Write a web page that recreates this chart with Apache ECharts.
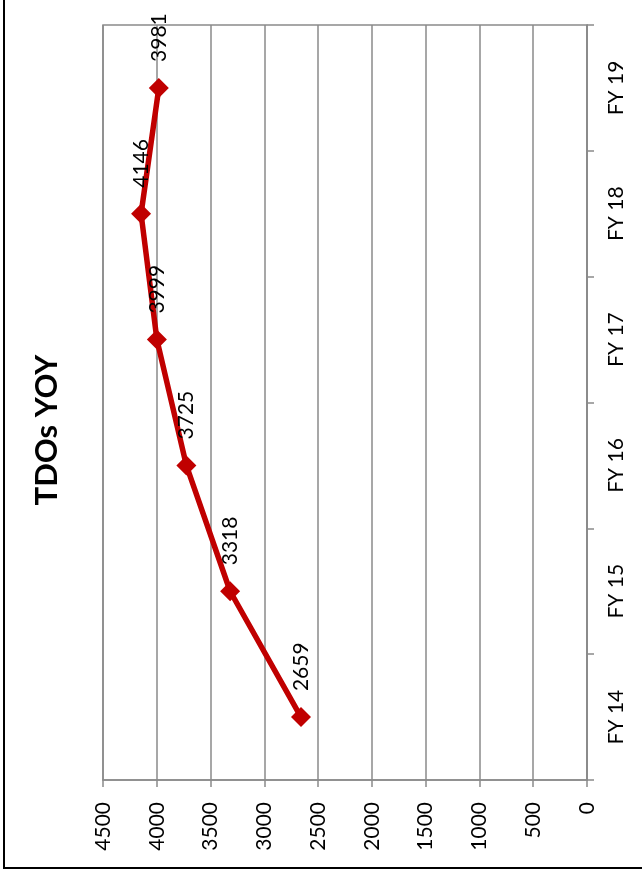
<!DOCTYPE html>
<html>
<head>
<meta charset="utf-8">
<script src="https://cdn.jsdelivr.net/npm/echarts@6/dist/echarts.min.js"></script>
<style>
html,body{margin:0;padding:0;background:#fff;}
#chart{width:642px;height:875px;}
</style>
</head>
<body>
<div id="chart"></div>
<script>
const categories = ['FY 14', 'FY 15', 'FY 16', 'FY 17', 'FY 18', 'FY 19'];
const tdoValues = [2659, 3318, 3725, 3999, 4146, 3981];
const chartTitle = 'TDOs YOY';
const valueMin = 0, valueMax = 4500, valueStep = 500;

const FONT = 'Lato';
const GRID = '#8a8a8a';
const chart = echarts.init(document.getElementById('chart'), null, {renderer: 'canvas'});
chart.setOption({
  backgroundColor: '#fff',
  animation: false,
  grid: {left: 103, right: 55, top: 25, bottom: 95, show: true, borderColor: GRID, borderWidth: 1.5},
  xAxis: {
    type: 'value', min: valueMin, max: valueMax, interval: valueStep, inverse: true,
    position: 'bottom',
    axisLine: {show: true, lineStyle: {color: GRID, width: 1.5}},
    axisTick: {show: true, length: 7, lineStyle: {color: GRID, width: 1.5}},
    splitLine: {show: true, lineStyle: {color: GRID, width: 1.5}},
    axisLabel: {rotate: 90, margin: 22, fontFamily: FONT, fontSize: 21, color: '#000',
      formatter: v => String(v)}
  },
  yAxis: {
    type: 'category', data: categories, position: 'right', boundaryGap: true,
    axisLine: {show: true, lineStyle: {color: GRID, width: 1.5}},
    axisTick: {show: true, length: 7, alignWithLabel: false, lineStyle: {color: GRID, width: 1.5}},
    splitLine: {show: false},
    axisLabel: {rotate: 90, margin: 19, fontFamily: FONT, fontSize: 21, color: '#000'}
  },
  series: [{
    type: 'line', data: tdoValues,
    lineStyle: {color: '#C00000', width: 5.5},
    itemStyle: {color: '#C00000'},
    symbol: 'diamond', symbolSize: 20, showAllSymbol: true,
    label: {show: true, position: 'top', distance: 16, rotate: 90, align: 'left', verticalAlign: 'middle',
      fontFamily: FONT, fontSize: 21, color: '#000'}
  }],
  graphic: [
    {type: 'rect', shape: {x: 4, y: -10, width: 700, height: 878}, style: {fill: 'none', stroke: '#000', lineWidth: 2}, z: 100},
    {type: 'text', x: 47, y: 430, rotation: Math.PI / 2,
      style: {text: chartTitle, font: 'bold 31px Lato', fill: '#000', align: 'center', verticalAlign: 'middle'}}
  ]
});
</script>
</body>
</html>
